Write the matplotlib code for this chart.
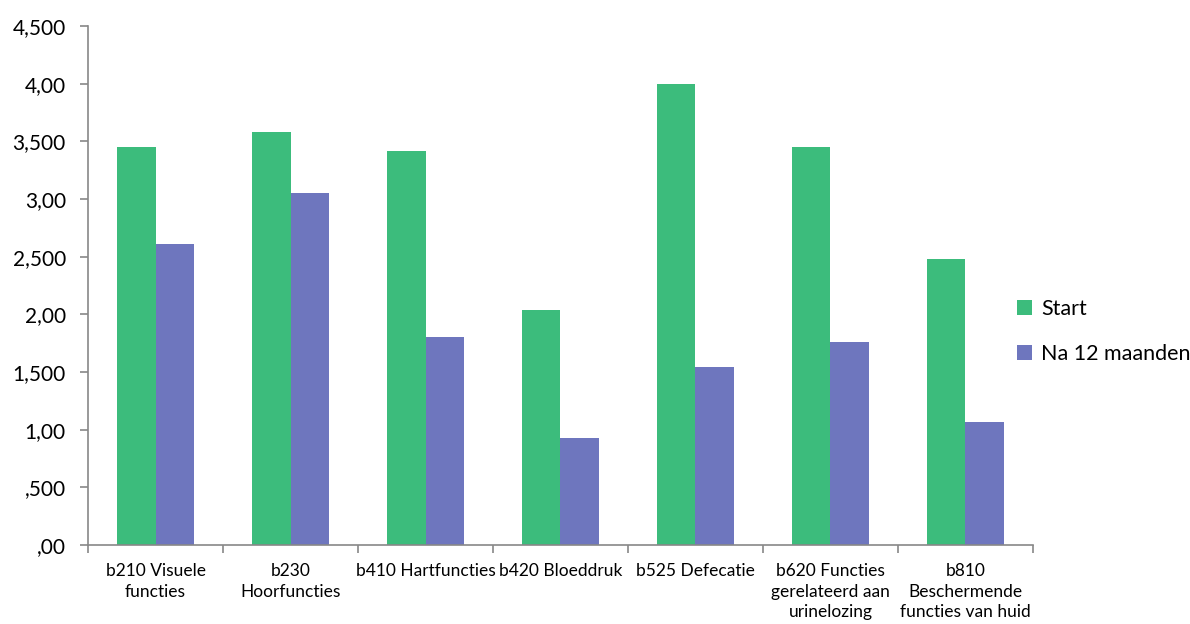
import matplotlib
matplotlib.use("Agg")
import matplotlib.pyplot as plt
import numpy as np

categories = ["b210 Visuele\nfuncties", "b230\nHoorfuncties", "b410 Hartfuncties",
              "b420 Bloeddruk", "b525 Defecatie", "b620 Functies\ngerelateerd aan\nurinelozing",
              "b810\nBeschermende\nfuncties van huid"]
start = [3.45, 3.58, 3.42, 2.04, 4.00, 3.45, 2.48]
na12 = [2.61, 3.05, 1.80, 0.93, 1.54, 1.76, 1.07]
yticks = [0, 0.5, 1.0, 1.5, 2.0, 2.5, 3.0, 3.5, 4.0, 4.5]
ytick_labels = [",00", ",500", "1,00", "1,500", "2,00", "2,500", "3,00", "3,500", "4,00", "4,500"]
series_names = ["Start", "Na 12 maanden"]

plt.rcParams['font.family'] = ['Lato', 'DejaVu Sans']

fig = plt.figure(figsize=(11.9, 6.24), dpi=100)
ax = fig.add_axes([0.074, 0.1266, 0.794, 0.8314])

x = np.arange(len(categories))
w = 0.285
green = "#3CBC7C"
purple = "#6E76BE"
ax.bar(x - w/2, start, w, color=green, label=series_names[0])
ax.bar(x + w/2, na12, w, color=purple, label=series_names[1])

ax.set_xlim(-0.5, len(categories) - 0.5)
ax.set_ylim(0, 4.5)
ax.set_yticks(yticks)
ax.set_yticklabels(ytick_labels, fontsize=15)

ax.set_xticks(x)
ax.set_xticklabels(categories, fontsize=12.5, linespacing=1.35, va='top')
ax.tick_params(axis='x', length=0, pad=13)
ax.set_xticks(np.arange(len(categories) + 1) - 0.5, minor=True)
ax.tick_params(axis='x', which='minor', length=6, color='#888888', width=1.2)
ax.tick_params(axis='y', length=6, color='#888888', width=1.2, pad=10)

for s in ['top', 'right']:
    ax.spines[s].set_visible(False)
for s in ['left', 'bottom']:
    ax.spines[s].set_color('#888888')
    ax.spines[s].set_linewidth(1.2)

leg = fig.legend(loc='upper left', bbox_to_anchor=(0.838, 0.552), frameon=False,
                 fontsize=15.5, handlelength=0.7, handleheight=0.7, handletextpad=0.45,
                 labelspacing=1.15)

fig.savefig("out.png", dpi=100)
